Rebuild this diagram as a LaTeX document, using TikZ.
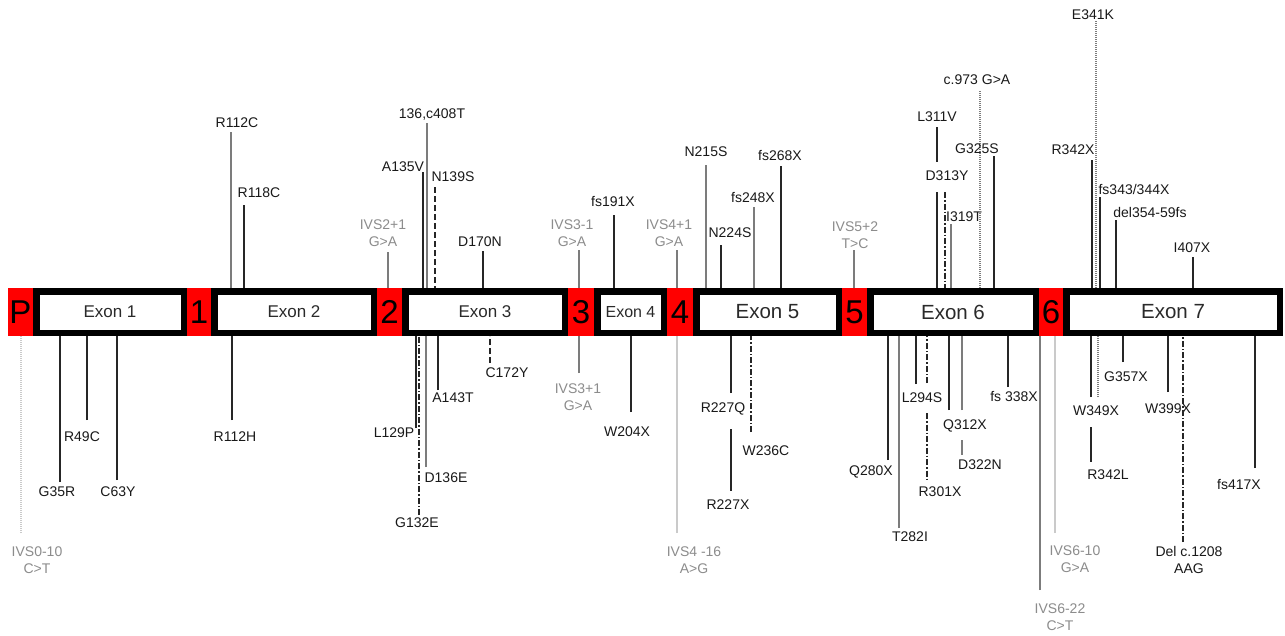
\documentclass[tikz,border=0pt]{standalone}
\usepackage{fontspec}
\setmainfont{Liberation Sans}
\usepackage{tikz}
\usetikzlibrary{positioning}
\definecolor{exred}{HTML}{FF0000}
\definecolor{ivsgray}{HTML}{8C8C8C}
\definecolor{linegray}{HTML}{7C7C7C}
\definecolor{palegray}{HTML}{CACACA}
\definecolor{exontext}{HTML}{2A2A2A}
\tikzset{
  lab/.style={font=\fontsize{14}{17}\selectfont,inner sep=0pt,align=center,text=black!90},
  ivs/.style={lab,text=ivsgray},
  blk/.style={line width=1.4pt,black!85},
  gry/.style={line width=1.1pt,linegray},
  pale/.style={line width=1.2pt,palegray},
  paledot/.style={line width=1.2pt,palegray,dash pattern=on 1pt off 1pt},
  dsh/.style={blk,dash pattern=on 6pt off 3pt},
  dshdot/.style={blk,dash pattern=on 6pt off 2pt on 1.5pt off 2pt},
  dtt/.style={line width=1.1pt,linegray,dash pattern=on 1pt off 1pt},
  cell/.style={fill=exred,minimum height=48pt,inner sep=0pt,font=\fontsize{33}{33}\selectfont},
  exon/.style={draw=black,line width=6.5pt,fill=white,minimum height=41.5pt,inner sep=0pt,text=exontext}
}

\begin{document}
\begin{tikzpicture}[x=1pt,y=-1pt]
\useasboundingbox (0,0) rectangle (1285,635);
\fill[white] (0,0) rectangle (1285,635);
\coordinate (bartop) at (0,288);
\coordinate (barbot) at (0,336);

% mutations above the gene
\foreach \lx/\ly/\mx/\my/\sty/\txt [count=\i] in {
  237/123/231/132/gry/R112C, 259/193/244/205/blk/R118C,
  432/115/427/123/gry/{136,c408T}, 403/167/423/172/blk/A135V,
  453/177/435/187/dsh/N139S, 480/242/483/251/blk/D170N,
  613/201/614/215/blk/fs191X, 706/152/706/165/gry/N215S,
  730/233/721/245/blk/N224S, 753/197/754/207/gry/fs248X,
  780/155/781/166/blk/fs268X, 947/176/945/192/dshdot/D313Y,
  964/217/951/224/gry/I319T, 977/80/980/91/dtt/{c.973 G>A},
  977/149/994/156/blk/G325S, 1093/15/1096/21/dtt/E341K,
  1073/150/1092/160/blk/R342X, 1134/189/1100/197/blk/{fs343/344X},
  1150/212/1116/220/blk/del354-59fs, 1192/248/1193/257/blk/I407X}{
  \node[lab] (t\i) at (\lx,\ly) {\txt};
  \coordinate (tm\i) at (\mx,\my);
  \draw[\sty] (tm\i) -- (tm\i |- bartop);
}
\foreach \lx/\ly/\mx/\my/\txt [count=\i] in {
  383/233/388/252/{IVS2+1\\G>A}, 572/233/579/250/{IVS3-1\\G>A},
  669/233/677/250/{IVS4+1\\G>A}, 855/235/854/250/{IVS5+2\\T>C}}{
  \node[ivs] (ti\i) at (\lx,\ly) {\txt};
  \coordinate (tim\i) at (\mx,\my);
  \draw[gry] (tim\i) -- (tim\i |- bartop);
}

% L311V, cut by the D313Y label
\node[lab] (l311v) at (937,117) {L311V};
\coordinate (l311a) at (937,127);
\coordinate (l311b) at (937,162);
\coordinate (l311c) at (937,192);
\draw[blk] (l311a) -- (l311b) (l311c) -- (l311c |- bartop);

% mutations below the gene
\foreach \lx/\ly/\mx/\my/\sty/\txt [count=\i] in {
  57/492/60/482/blk/G35R, 82/437/87/420/blk/R49C,
  118/492/117/480/blk/C63Y, 235/437/232/420/blk/R112H,
  394/433/416/428/blk/L129P, 417/523/419/515/dshdot/G132E,
  446/478/426/467/gry/D136E, 453/398/438/390/blk/A143T,
  507/373/490/363/dsh/C172Y, 627/432/631/412/blk/W204X,
  723/409/731/393/blk/R227Q, 766/451/751/432/dshdot/W236C,
  871/472/888/460/blk/Q280X, 910/537/899/528/gry/T282I,
  922/398/916/384/blk/L294S, 965/426/949/410/blk/Q312X,
  1014/396/1008/387/blk/{fs 338X}, 1096/411/1098/397/dtt/W349X,
  1126/377/1123/362/blk/G357X, 1168/409/1168/392/blk/W399X,
  1189/560/1183/542/dshdot/{Del c.1208\\AAG}, 1239/484/1255/468/blk/fs417X}{
  \node[lab] (b\i) at (\lx,\ly) {\txt};
  \coordinate (bm\i) at (\mx,\my);
  \draw[\sty] (bm\i) -- (bm\i |- barbot);
}
\foreach \lx/\ly/\mx/\my/\sty/\txt [count=\i] in {
  37/560/21/533/paledot/{IVS0-10\\C>T}, 578/397/579/373/gry/{IVS3+1\\G>A},
  694/560/677/533/pale/{IVS4 -16\\A>G}, 1060/617/1040/590/gry/{IVS6-22\\C>T},
  1075/559/1055/533/pale/{IVS6-10\\G>A}}{
  \node[ivs] (bi\i) at (\lx,\ly) {\txt};
  \coordinate (bim\i) at (\mx,\my);
  \draw[\sty] (bim\i) -- (bim\i |- barbot);
}

% lines broken by other labels
\node[lab] (r227x) at (728,505) {R227X};
\coordinate (r227a) at (731,429);
\coordinate (r227b) at (731,491);
\draw[blk] (r227a) -- (r227b);
\node[lab] (r301x) at (940,492) {R301X};
\coordinate (r301a) at (927,383);
\coordinate (r301b) at (927,413);
\coordinate (r301c) at (927,480);
\draw[dshdot] (r301a) -- (r301a |- barbot) (r301b) -- (r301c);
\node[lab] (d322n) at (980,465) {D322N};
\coordinate (d322a) at (962,410);
\coordinate (d322b) at (962,440);
\coordinate (d322c) at (962,455);
\draw[gry] (d322a) -- (d322a |- barbot) (d322b) -- (d322c);
\node[lab] (r342l) at (1108,475) {R342L};
\coordinate (r342a) at (1091,397);
\coordinate (r342b) at (1091,427);
\coordinate (r342c) at (1091,462);
\draw[blk] (r342a) -- (r342a |- barbot) (r342b) -- (r342c);

% the gene
\foreach \n/\a/\b/\fs in {1/33/187/17,2/211/377/17,3/402/568/17,4/594/667/16,
  5/693/842/20.5,6/867/1039/20.5,7/1063/1283/20.5}
  \node[exon,minimum width={\b-\a-6.5},font=\fontsize{\fs}{\fs}\selectfont] (ex\n) at ({(\a+\b)/2},312) {Exon \n};
\foreach \n/\a/\b in {P/8/33,1/187/211,2/377/402,3/568/594,4/667/693,5/842/867,6/1039/1063}
  \node[cell,minimum width={\b-\a}] (c\n) at ({(\a+\b)/2},312) {\n};
\end{tikzpicture}
\end{document}
